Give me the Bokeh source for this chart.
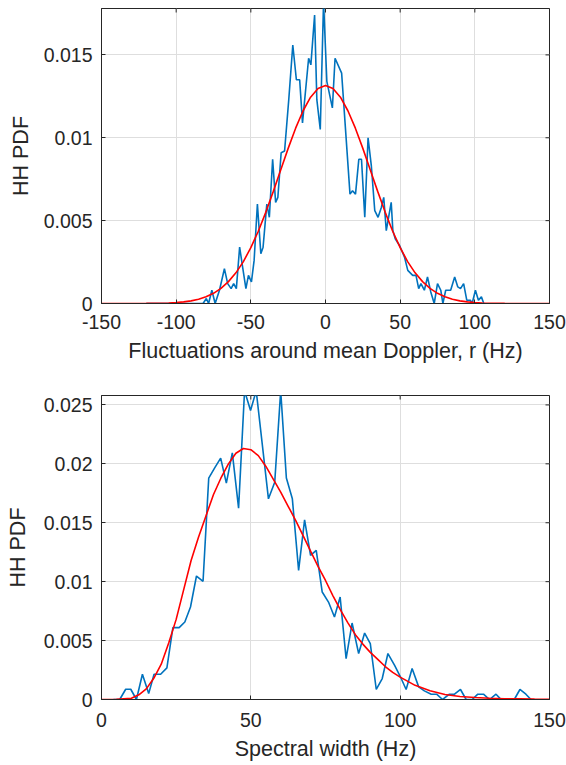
import math
from bokeh.plotting import figure
from bokeh.models import Range1d, FixedTicker
from bokeh.layouts import column
from bokeh.embed import file_html
from bokeh.resources import INLINE

# ---------------- data: top panel (Doppler fluctuations) ----------------
top_r = [-120, -82, -79.8, -78.3, -76.1, -73.9, -71.0, -67.7, -65.5, -63.2, -61.5, -59.7,
         -57.5, -55.5, -53.3, -51.6, -49.6, -47.8, -45.6, -43.3, -41.8, -39.3, -37.6,
         -35.4, -33.4, -31.9, -29.7, -27.4, -24.6, -21.9, -19.5, -17.3, -15.4, -11.3,
         -9.8, -7.3, -5.8, -3.5, -1.3, 0.9, 4.6, 6.4, 10.8, 16.4, 18.1, 20.1, 22.3, 24.1,
         26.3, 28.5, 30.7, 33.0, 35.2, 37.4, 39.0, 40.7, 44.0, 45.1, 46.7, 49.6, 52.9,
         55.1, 58.4, 60.6, 62.4, 63.9, 66.2, 68.3, 70.5, 72.8, 75.0, 77.2, 78.6, 80.5,
         83.8, 86.5, 88.6, 90.4, 92.5, 94.6, 97.0, 98.2, 100.4, 102.4, 104.4, 106.0]
top_pdf = [0, 0, 0.0003, 0, 0.0008, 0, 0.0008, 0.0021, 0.0012, 0.0009, 0.0012, 0.0009,
           0.0034, 0.0022, 0.0009, 0.0017, 0.0013, 0.0026, 0.0060, 0.0030, 0.0034, 0.0060, 0.0052,
           0.0087, 0.0061, 0.0064, 0.0091, 0.0092, 0.0123, 0.0156, 0.0135, 0.0135, 0.0109, 0.0148,
           0.0144, 0.0174, 0.0123, 0.0105, 0.0182, 0.0134, 0.0118, 0.0148, 0.0139, 0.0066, 0.0068, 0.0066, 0.0087, 0.0087,
           0.0052, 0.0100, 0.0083, 0.0056, 0.0052, 0.0058, 0.0064, 0.0044, 0.0061, 0.0044, 0.0039, 0.0035, 0.0028,
           0.0020, 0.0017, 0.0017, 0.0009, 0.0012, 0.0008, 0.0016, 0.0007, 0.0, 0.0012, 0.0008, 0.0, 0.0008,
           0.0008, 0.0016, 0.0010, 0.0009, 0.0012, 0.0002, 0.0002, 0.0, 0.0008, 0.0002, 0.0004, 0.0]

top_fit_r = [-150, -145, -140, -135, -130, -125, -120, -115, -110, -105, -100, -95, -90, -85,
             -80, -75, -70, -65, -60, -55, -50, -45, -40, -35, -30, -25, -20, -15, -10, -5,
             0, 5, 10, 15, 20, 25, 30, 35, 40, 45, 50, 55, 60, 65, 70, 75, 80, 85, 90, 95,
             100, 105, 110, 115, 120, 125, 130, 135, 140, 145, 150]
top_fit_pdf = [0.0, 0.0, 0.0, 0.0, 0.000001, 0.000002, 0.000005, 0.00001, 0.000018, 0.000033,
               0.000057, 0.000096, 0.00016, 0.000257, 0.000403, 0.000615, 0.000913, 0.00132,
               0.00185, 0.00253, 0.00337, 0.00436, 0.0055, 0.00675, 0.00805, 0.00936, 0.01058,
               0.01163, 0.01245, 0.01297, 0.01315, 0.01297, 0.01245, 0.01163, 0.01058, 0.00936,
               0.00805, 0.00675, 0.0055, 0.00436, 0.00337, 0.00253, 0.00185, 0.00132, 0.000913,
               0.000615, 0.000403, 0.000257, 0.00016, 0.000096, 0.000057, 0.000033, 0.000018,
               0.00001, 0.000005, 0.000002, 0.000001, 0.0, 0.0, 0.0, 0.0]

top_xrange = (-150, 150)
top_yrange = (0, 0.0178)
top_xticks = [-150, -100, -50, 0, 50, 100, 150]
top_xlabels = ["-150", "-100", "-50", "0", "50", "100", "150"]
top_yticks = [0, 0.005, 0.01, 0.015]
top_ylabels = ["0", "0.005", "0.01", "0.015"]

# ---------------- data: bottom panel (spectral width) ----------------
bot_w = [4.0, 6.1, 8.1, 9.8, 11.7, 13.7, 15.8, 17.6, 19.8, 21.9, 23.9, 26.0, 27.9, 29.8,
         31.8, 34.0, 35.9, 37.9, 39.9, 41.8, 43.8, 45.9, 47.9, 49.9, 51.8, 55.9, 58.0,
         60.0, 61.9, 63.9, 66.0, 68.0, 70.0, 71.9, 73.9, 76.0, 78.0, 79.9, 81.9, 83.9,
         86.1, 88.1, 90.0, 92.0, 94.0, 95.9, 98.1, 100.0, 102.0, 104.0, 106.2, 108.1,
         110.4, 112.2, 114.2, 116.5, 118.2, 120.2, 122.1, 124.1, 126.0, 127.9, 129.9,
         132.1, 133.8, 138.2, 140.1, 142.1, 143.8]
bot_pdf = [0, 0, 0.00087, 0.00087, 0, 0.00214, 0.0005, 0.00214, 0.00214, 0.00268, 0.0061,
           0.0061, 0.00658, 0.00785, 0.01048, 0.01003, 0.01878, 0.01966, 0.02048, 0.01836,
           0.02093, 0.01624, 0.0262, 0.02452, 0.0262, 0.01703, 0.01844, 0.0262, 0.0188,
           0.01703, 0.01096, 0.01525, 0.01223, 0.01265, 0.00912, 0.00827, 0.0070, 0.0087,
           0.00347, 0.00649, 0.0039, 0.00564, 0.00475, 0.00085, 0.00178, 0.0039, 0.00291,
           0.00197, 0.00085, 0.00263, 0.00107, 0.00073, 0.00045, 0.00045, 0, 0.00045,
           0.00045, 0.00085, 0, 0, 0.00045, 0.00045, 0, 0.00045, 0, 0, 0.00085, 0.00045, 0]

bot_fit_w = [0, 5, 10, 12.5, 15, 17.5, 20, 22.5, 25, 27.5, 30, 32.5, 35, 37.5, 40, 42.5, 45,
             47.5, 50, 52.5, 55, 57.5, 60, 62.5, 65, 67.5, 70, 72.5, 75, 77.5, 80, 82.5, 85,
             87.5, 90, 92.5, 95, 97.5, 100, 105, 110, 115, 120, 125, 130, 135, 140, 145, 150]
bot_fit_pdf = [0.0, 0.00001, 0.0001, 0.0004, 0.0009, 0.0018, 0.0030, 0.0048, 0.0068, 0.0093,
               0.0118, 0.0138, 0.0156, 0.0174, 0.0188, 0.0200, 0.0209, 0.0213, 0.0212, 0.0207,
               0.0198, 0.0187, 0.0176, 0.0164, 0.0152, 0.0139, 0.0126, 0.0113, 0.0101, 0.0088,
               0.0076, 0.0065, 0.0055, 0.0047, 0.0040, 0.0034, 0.0028, 0.0023, 0.0019, 0.0012,
               0.00075, 0.00042, 0.00026, 0.00017, 0.00011, 0.00007, 0.00005, 0.00003, 0.00002]

bot_xrange = (0, 150)
bot_yrange = (0, 0.0258)
bot_xticks = [0, 50, 100, 150]
bot_xlabels = ["0", "50", "100", "150"]
bot_yticks = [0, 0.005, 0.01, 0.015, 0.02, 0.025]
bot_ylabels = ["0", "0.005", "0.01", "0.015", "0.02", "0.025"]

# ---------------- styling ----------------
FONT = "Liberation Sans"
TXT = "#262626"
TICK_FS = "19.5px"
LAB_FS = "21.5px"
BLUE = "#0072BD"
RED = "#FF0000"
GRID = "#dedede"


def make_panel(xr, yr, xticks, xlabels, yticks, ylabels, xlabel, ylabel,
               width, height, bl, br, bt, bb, x_so, x_lso, y_so, y_lso):
    p = figure(width=width, height=height, x_range=Range1d(*xr), y_range=Range1d(*yr),
               output_backend="svg", toolbar_location=None,
               min_border_left=bl, min_border_right=br, min_border_top=bt, min_border_bottom=bb)
    p.background_fill_color = "white"
    p.border_fill_color = "white"
    p.outline_line_color = TXT
    p.outline_line_width = 1

    ax = p.xaxis[0]
    ax.ticker = FixedTicker(ticks=xticks)
    ax.major_label_overrides = dict(zip(xticks, xlabels))
    ay = p.yaxis[0]
    ay.ticker = FixedTicker(ticks=yticks)
    ay.major_label_overrides = dict(zip(yticks, ylabels))
    ax.axis_label = xlabel
    ay.axis_label = ylabel
    for a in (ax, ay):
        a.major_label_text_font = FONT
        a.major_label_text_font_size = TICK_FS
        a.major_label_text_color = TXT
        a.axis_label_text_font = FONT
        a.axis_label_text_font_size = LAB_FS
        a.axis_label_text_font_style = "normal"
        a.axis_label_text_color = TXT
        a.axis_line_color = TXT
        a.major_tick_line_color = TXT
        a.major_tick_in = 4
        a.major_tick_out = 0
        a.minor_tick_line_color = None
    ax.major_label_standoff = x_so
    ax.axis_label_standoff = x_lso
    ay.major_label_standoff = y_so
    ay.axis_label_standoff = y_lso

    p.xgrid.ticker = FixedTicker(ticks=xticks)
    p.ygrid.ticker = FixedTicker(ticks=yticks)
    p.xgrid.grid_line_color = GRID
    p.ygrid.grid_line_color = GRID
    p.xgrid.grid_line_width = 1
    p.ygrid.grid_line_width = 1

    # inward tick marks on the top and right edges of the box (half of each dash is clipped)
    p.scatter(x=xticks, y=[yr[1]] * len(xticks), marker="dash", size=8, angle=math.pi / 2,
              line_color=TXT, line_width=1)
    p.scatter(x=[xr[1]] * len(yticks), y=yticks, marker="dash", size=8,
              line_color=TXT, line_width=1)
    return p


p1 = make_panel(top_xrange, top_yrange, top_xticks, top_xlabels, top_yticks, top_ylabels,
                "Fluctuations around mean Doppler, r (Hz)", "HH PDF",
                width=566, height=388, bl=97, br=17, bt=8, bb=85,
                x_so=11, x_lso=7, y_so=9, y_lso=8)
p1.line(top_r, top_pdf, line_color=BLUE, line_width=1.6)
p1.line(top_fit_r, top_fit_pdf, line_color=RED, line_width=1.6)

p2 = make_panel(bot_xrange, bot_yrange, bot_xticks, bot_xlabels, bot_yticks, bot_ylabels,
                "Spectral width (Hz)", "HH PDF",
                width=566, height=377, bl=101, br=16, bt=7, bb=66,
                x_so=13, x_lso=7, y_so=9, y_lso=11)
p2.line(bot_w, bot_pdf, line_color=BLUE, line_width=1.6)
p2.line(bot_fit_w, bot_fit_pdf, line_color=RED, line_width=1.6)

layout = column(p1, p2, spacing=0)

open("out.html", "w").write(file_html(layout, INLINE))
